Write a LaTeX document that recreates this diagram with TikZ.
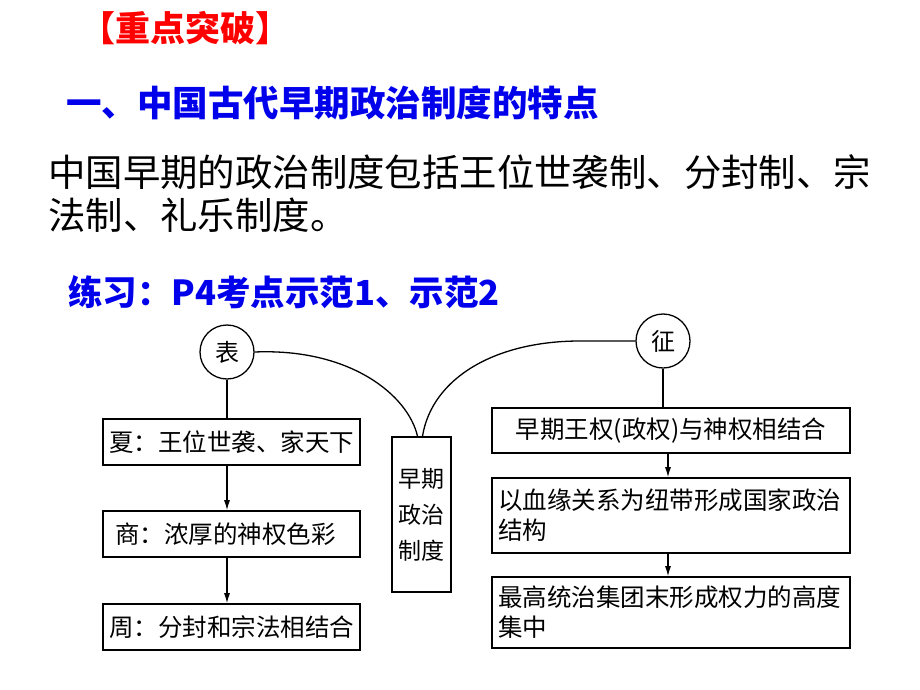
\documentclass[tikz,border=0pt]{standalone}
\usepackage{fontspec}
\setmainfont{Noto Sans CJK SC}
\newfontfamily\cjk{Noto Sans CJK SC}
\usetikzlibrary{arrows.meta}
\definecolor{tred}{RGB}{255,0,0}
\definecolor{tblue}{RGB}{0,0,235}
\begin{document}
\begin{tikzpicture}[x=1pt,y=-1pt,
  ttl/.style={anchor=west,inner sep=0pt,font=\cjk\bfseries\fontsize{#1}{#1}\selectfont},
  para/.style={anchor=west,inner sep=0pt,font=\cjk\fontsize{37.4}{43}\selectfont},
  box/.style={draw,line width=1.6pt,rectangle,inner sep=0pt,font=\cjk\fontsize{24.5}{30}\selectfont},
  circ/.style={draw,line width=1.3pt,circle,minimum size=54pt,inner sep=0pt,font=\cjk\fontsize{24}{24}\selectfont},
  ln/.style={line width=1.3pt},
  arr/.style={line width=1.1pt,-{Latex[length=10pt,width=6pt]}}
]
\useasboundingbox (0,0) rectangle (920,690);
% headings
\node[ttl=35,text=tred] (h1) at (80,28) {【重点突破】};
\node[ttl=35.5,text=tblue] (h2) at (66,103) {一、中国古代早期政治制度的特点};
\node[para] (p1) at (48,172) {中国早期的政治制度包括王位世袭制、分封制、宗};
\node[para] (p2) at (48,215) {法制、礼乐制度。};
\node[ttl=34.5,text=tblue] (ex) at (68,292) {练习：P4考点示范1、示范2};
% left column
\node[circ] (biao) at (227,352) {表};
\node[box,minimum width=257pt,minimum height=46pt,text width=245pt,align=left] (xia) at (231.5,442) {夏：王位世袭、家天下};
\node[box,minimum width=257pt,minimum height=46pt,text width=233pt,align=left] (shang) at (231.5,534) {商：浓厚的神权色彩};
\node[box,minimum width=257pt,minimum height=46pt,text width=245pt,align=left] (zhou) at (231.5,627) {周：分封和宗法相结合};
% middle
\node[box,minimum width=59pt,minimum height=155pt,align=center,font=\cjk\fontsize{23}{36}\selectfont] (mid) at (421.5,514.5) {早期\\政治\\制度};
% right column
\node[circ] (zheng) at (663,341) {征};
\node[box,minimum width=358pt,minimum height=45pt,align=center] (r1) at (671,430.5) {早期王权(政权)与神权相结合};
\node[box,minimum width=358pt,minimum height=75pt,text width=346pt,align=left] (r2) at (671,515.5) {以血缘关系为纽带形成国家政治\\结构};
\node[box,minimum width=358pt,minimum height=71pt,text width=346pt,align=left] (r3) at (671,612.5) {最高统治集团末形成权力的高度\\集中};
% connectors
\draw[ln] (biao.south) -- (biao.south |- xia.north);
\draw[arr] (biao |- xia.south) -- (biao |- shang.north);
\draw[arr] (biao |- shang.south) -- (biao |- zhou.north);
\draw[ln] (zheng.south) -- (zheng.south |- r1.north);
\draw[arr] ([xshift=5pt]zheng |- r1.south) -- ([xshift=5pt]zheng |- r2.north);
\draw[arr] ([xshift=5pt]zheng |- r2.south) -- ([xshift=5pt]zheng |- r3.north);
\draw[ln] (biao.east) .. controls (350,348) and (408,395) .. ([xshift=-4pt]mid.north);
\draw[ln] ([xshift=1pt]mid.north) .. controls (432,378) and (495,341) .. (580,341) -- (zheng.west);
\end{tikzpicture}
\end{document}
